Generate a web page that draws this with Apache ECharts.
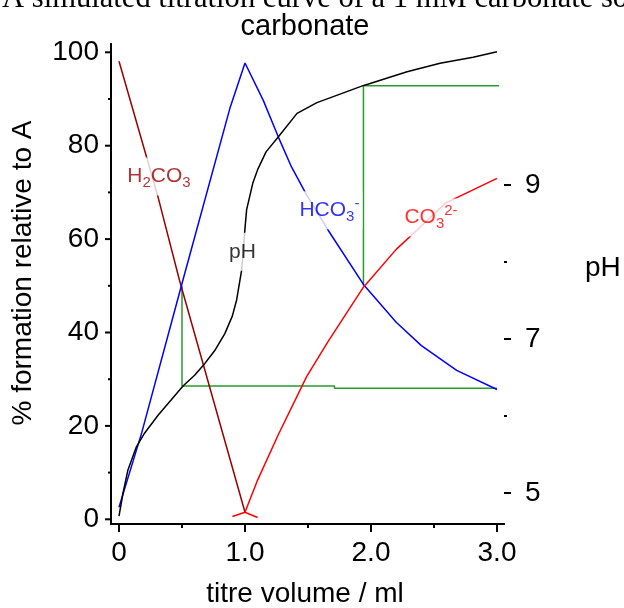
<!DOCTYPE html>
<html>
<head>
<meta charset="utf-8">
<script src="https://cdn.jsdelivr.net/npm/echarts@6/dist/echarts.min.js"></script>
<style>html,body{margin:0;background:#fff}#main{width:624px;height:608px}</style>
</head>
<body>
<div id="main"></div>
<script>
// titre volume (ml) vs % formation / pH
var h2co3 = [[0, 98.1], [0.31, 69], [0.48, 51.2], [1.0, 1.5]];
var hco3 = [[0, 2.6], [0.18, 18.5], [0.5, 50.5], [0.88, 88], [1.0, 97.7], [1.145, 89.7], [1.264, 81.9],
	[1.37, 75.4], [1.49, 69.4], [1.66, 61.9], [1.94, 50.3], [2.2, 42.2], [2.4, 37.2], [2.68, 31.9], [3.0, 27.8]];
var co3 = [[0.9, 0.6], [1.0, 1.5], [1.1, 8.4], [1.264, 18.1], [1.49, 30.6], [1.66, 38.1], [1.94, 49.7],
	[2.2, 57.8], [2.4, 62.8], [2.59, 67.7], [3.0, 73]];
var co3Foot = [[1.0, 1.5], [1.1, 0.4]];
var ph = [[0, 4.70], [0.032, 5.0], [0.071, 5.30], [0.138, 5.60], [0.204, 5.78], [0.31, 6.01], [0.415, 6.21],
	[0.508, 6.39], [0.60, 6.53], [0.68, 6.68], [0.76, 6.85], [0.84, 7.07], [0.90, 7.30], [0.934, 7.51],
	[0.974, 7.90], [1.0, 8.44], [1.013, 8.68], [1.063, 9.03], [1.103, 9.21], [1.167, 9.43], [1.262, 9.62],
	[1.413, 9.93], [1.571, 10.07], [1.754, 10.18], [1.937, 10.29], [2.286, 10.47], [2.548, 10.58],
	[2.81, 10.66], [3.0, 10.73]];
// green construction lines
var drop1 = [[0.5, 50], [0.5, 28.5]];
var pka1 = [[0.5, 6.39], [1.71, 6.39], [1.71, 6.36], [3.0, 6.36]];
var rise2 = [[1.94, 50], [1.94, 92.7]];
var pka2 = [[1.94, 10.29], [3.05, 10.29]];

// ticks
var xTicks = [0, 1, 2, 3];
var xTickLabels = ['0', '1.0', '2.0', '3.0'];
var xMinor = [0.5, 1.5, 2.5];
var pctTicks = [0, 20, 40, 60, 80, 100];
var pctMinor = [10, 30, 50, 70, 90];
var phTicks = [5, 7, 9];
var phMinor = [6, 8];

var font = '"Liberation Sans", Arial, sans-serif';
var myChart = echarts.init(document.getElementById('main'));

function line(data, color, grid) {
	return {
		type: 'line', data: data, xAxisIndex: grid, yAxisIndex: grid,
		symbol: 'none', silent: true, clip: false,
		lineStyle: { color: color, width: 1.5 }
	};
}
// tick marks drawn outward from the frame edge of a grid
function tickSeries(grid, values, len, side) {
	return {
		type: 'custom', xAxisIndex: grid, yAxisIndex: grid, silent: true, clip: false,
		data: values.map(function (v) { return [v]; }),
		renderItem: function (params, api) {
			var v = api.value(0), p, s;
			if (side === 'bottom') {
				p = api.coord([v, 0]); s = { x1: p[0], y1: p[1], x2: p[0], y2: p[1] + len };
			} else if (side === 'left') {
				p = api.coord([0, v]); s = { x1: p[0] - len, y1: p[1], x2: p[0], y2: p[1] };
			} else {
				p = api.coord([1, v]); s = { x1: p[0], y1: p[1], x2: p[0] + len, y2: p[1] };
			}
			return { type: 'line', shape: s, style: { stroke: '#000', lineWidth: 2 } };
		}
	};
}
var rich = {
	n: { fontSize: 21, lineHeight: 28, fontFamily: font },
	s: { fontSize: 15, lineHeight: 8, verticalAlign: 'bottom', fontFamily: font },
	u: { fontSize: 15, lineHeight: 12, verticalAlign: 'top', fontFamily: font }
};
var labelStyle = { fontSize: 28, fontFamily: font, color: '#000' };
var frameLine = { show: true, lineStyle: { color: '#000', width: 2 } };
function ax(extra) {
	return Object.assign({
		type: 'value', axisLine: { show: false }, axisTick: { show: false },
		axisLabel: { show: false }, splitLine: { show: false }
	}, extra);
}

option = {
	animation: false,
	title: {
		text: 'carbonate', left: 305, top: 12, textAlign: 'center', padding: 0,
		textStyle: { fontFamily: font, fontSize: 29, fontWeight: 'normal', color: '#000' }
	},
	graphic: [{
		type: 'text', x: 2, y: -1,
		style: {
			text: 'A simulated titration curve of a 1 mM carbonate solution',
			font: '30.6px "Liberation Serif", "Times New Roman", serif', fill: '#000', verticalAlign: 'middle'
		}
	}, {
		type: 'text', x: 585, y: 268,
		style: { text: 'pH', font: '28px ' + font, fill: '#000', verticalAlign: 'middle' }
	}, {
		type: 'text', x: 305, y: 594,
		style: { text: 'titre volume / ml', font: '28px ' + font, fill: '#000', align: 'center', verticalAlign: 'middle' }
	}],
	grid: [
		{ left: 119, right: 127, top: 52.3, bottom: 88.7 },  // 0: % formation data + labels
		{ left: 119, right: 127, top: 185, bottom: 115 },    // 1: pH data + labels
		{ left: 111, right: 120, top: 44, bottom: 84 },      // 2: frame
		{ left: 111, right: 120, top: 52.3, bottom: 88.7 },  // 3: % ticks
		{ left: 111, right: 120, top: 185, bottom: 115 },    // 4: pH ticks
		{ left: 119, right: 127, top: 44, bottom: 84 }       // 5: volume ticks
	],
	xAxis: [
		ax({
			gridIndex: 0, position: 'bottom', offset: 4.7, min: 0, max: 3, interval: 1,
			axisLabel: Object.assign({ show: true, margin: 15, formatter: function (v) { return xTickLabels[xTicks.indexOf(v)]; } }, labelStyle)
		}),
		ax({ gridIndex: 1, min: 0, max: 3 }),
		ax({ gridIndex: 2, position: 'bottom', min: 0, max: 1, axisLine: frameLine }),
		ax({ gridIndex: 3, min: 0, max: 1 }),
		ax({ gridIndex: 4, min: 0, max: 1 }),
		ax({ gridIndex: 5, min: 0, max: 3 }),
		ax({ gridIndex: 2, position: 'top', min: 0, max: 1, axisLine: frameLine })
	],
	yAxis: [
		ax({
			gridIndex: 0, position: 'left', offset: 8, min: 0, max: 100, interval: 20,
			axisLabel: Object.assign({ show: true, margin: 12 }, labelStyle)
		}),
		ax({
			gridIndex: 1, position: 'right', offset: 7, min: 5, max: 9, interval: 2,
			axisLabel: Object.assign({ show: true, margin: 21 }, labelStyle)
		}),
		ax({
			gridIndex: 2, position: 'left', min: 0, max: 1, axisLine: frameLine,
			name: '% formation relative to A', nameLocation: 'middle', nameGap: 74,
			nameTextStyle: Object.assign({ padding: [0, 0, 0, 22] }, labelStyle)
		}),
		ax({ gridIndex: 3, min: 0, max: 100 }),
		ax({ gridIndex: 4, min: 5, max: 9 }),
		ax({ gridIndex: 5, min: 0, max: 1 }),
		ax({ gridIndex: 2, position: 'right', min: 0, max: 1, axisLine: frameLine })
	],
	series: [
		tickSeries(3, pctTicks, 6, 'left'),
		tickSeries(3, pctMinor, 3, 'left'),
		tickSeries(4, phTicks, 7, 'right'),
		tickSeries(4, phMinor, 3, 'right'),
		tickSeries(5, xTicks, 8, 'bottom'),
		tickSeries(5, xMinor, 4, 'bottom'),
		line(drop1, '#2a9a2a', 0),
		line(pka1, '#2a9a2a', 1),
		line(rise2, '#2a9a2a', 0),
		line(pka2, '#2a9a2a', 1),
		line(h2co3, '#990000', 0),
		line(hco3, '#0000ff', 0),
		line(co3, '#ff0000', 0),
		line(co3Foot, '#ff0000', 0),
		line(ph, '#000000', 1),
		{
			type: 'scatter', xAxisIndex: 0, yAxisIndex: 0, symbolSize: 1, silent: true, z: 10, zlevel: 1,
			itemStyle: { color: 'rgba(0,0,0,0)' },
			label: {
				show: true, position: 'inside', backgroundColor: '#fff', padding: [5, 3],
				textBorderWidth: 0, fontFamily: font, rich: rich
			},
			data: [
				{ value: [0.317, 73.4], label: { color: '#990000', formatter: '{n|H}{s|2}{n|CO}{s|3}' } },
				{ value: [0.98, 57.3], label: { color: '#000', formatter: '{n|pH}' } },
				{ value: [1.67, 66.2], label: { color: '#0000ff', formatter: '{n|HCO}{s|3}{u|-}' } },
				{ value: [2.476, 64.6], label: { color: '#ff0000', formatter: '{n|CO}{s|3}{u|2-}' } }
			]
		}
	]
};
myChart.setOption(option);
</script>
</body>
</html>
